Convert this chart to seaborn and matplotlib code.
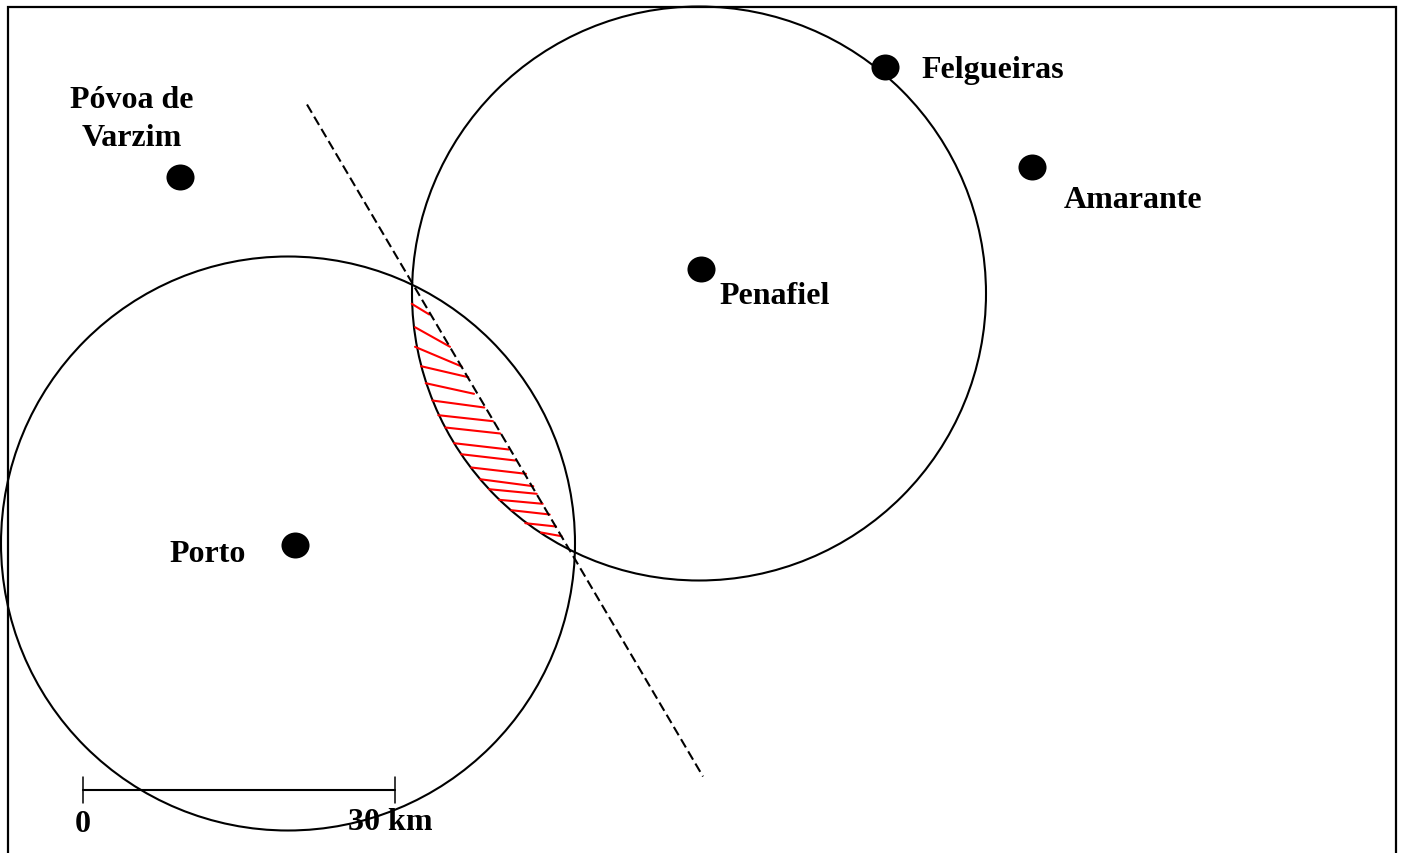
import pandas as pd
import matplotlib
matplotlib.use("Agg")
import matplotlib.pyplot as plt
from matplotlib.patches import Circle
from matplotlib.markers import MarkerStyle
from matplotlib.transforms import Affine2D
import seaborn as sns

# towns in pixels
town_x = [180, 885, 1032, 701, 295]
town_y = [177, 67, 167, 269, 545]

label_text = ["Póvoa de", "Varzim", "Felgueiras", "Amarante", "Penafiel", "Porto", "0", "30 km"]
label_x = [132, 132, 993, 1133, 775, 208, 83, 390]
label_y = [100, 138, 70, 200, 296, 554, 824, 822]

# catchment circles
circle_x = [288, 699]
circle_y = [544, 294]
circle_r = [287, 287]

# dashed line between the two catchments
dash_x = [307, 703]
dash_y = [105, 777]

# scale bar
bar_x = [83, 395]
bar_y = 790
bar_tick = 13

# frame edges (runs off the bottom of the image)
frame_x = [8, 8, 1396, 1396]
frame_y = [854, 7, 7, 854]

# red hatching of the overlap zone
hatch_x0 = [411.7, 415, 415, 421, 425.7, 432.3, 438.3, 445.3, 454, 461, 471.3, 480, 489, 499, 511.3, 525.3, 541]
hatch_y0 = [304.3, 327.7, 347.3, 366.7, 383.7, 401, 415.7, 428, 443.7, 454.7, 468, 479.7, 489.7, 500.3, 510.7, 523.7, 533]
hatch_x1 = [429.3, 450, 461.7, 468.3, 474, 484.3, 493, 500.3, 508.7, 515.3, 526, 533.3, 536.7, 542.7, 549.7, 556, 561.7]
hatch_y1 = [315, 347.3, 367, 377.7, 394.3, 408, 421.7, 434, 450, 461, 474.3, 486.7, 494.3, 504.3, 515, 527, 536.7]


def main():
    sns.set_theme(style="white")
    plt.rcParams["font.family"] = ["Liberation Serif", "DejaVu Serif"]

    fig, ax = plt.subplots(figsize=(14.02, 8.54), dpi=100)
    ax.set_position([0, 0, 1, 1])

    # frame
    ax.plot(frame_x, frame_y, color="black", lw=1.6, solid_joinstyle="miter")

    # circles
    for cx, cy, r in zip(circle_x, circle_y, circle_r):
        ax.add_patch(Circle((cx, cy), r, fill=False, edgecolor="black", lw=1.5))

    # hatching, one unit per stroke
    rows = []
    for i in range(len(hatch_x0)):
        rows.append({"seg": i, "x": hatch_x0[i], "y": hatch_y0[i]})
        rows.append({"seg": i, "x": hatch_x1[i], "y": hatch_y1[i]})
    hatch = pd.DataFrame(rows)
    sns.lineplot(data=hatch, x="x", y="y", units="seg", estimator=None, sort=False,
                 color="red", lw=1.5, ax=ax)

    # dashed line
    ax.plot(dash_x, dash_y, color="black", lw=1.5, dashes=(4.6, 2.2))

    # towns, dots are a bit wider than tall
    dot = MarkerStyle("o", transform=Affine2D().scale(1.08, 1))
    towns = pd.DataFrame({"x": town_x, "y": town_y})
    sns.scatterplot(data=towns, x="x", y="y", color="black", s=350, marker=dot, linewidth=0, ax=ax, zorder=5)

    # scale bar
    ax.plot(bar_x, [bar_y, bar_y], color="black", lw=1.5)
    for bx in bar_x:
        ax.plot([bx, bx], [bar_y - bar_tick, bar_y + bar_tick], color="black", lw=1.1)

    for txt, lx, ly in zip(label_text, label_x, label_y):
        ax.text(lx, ly, txt, ha="center", va="center", fontsize=23, fontweight="bold", color="black")

    ax.set_xlim(0, 1402)
    ax.set_ylim(854 - 0.5, -0.5)
    ax.axis("off")
    fig.savefig("out.png", dpi=100, facecolor="white")
    plt.close(fig)


if __name__ == "__main__":
    main()
